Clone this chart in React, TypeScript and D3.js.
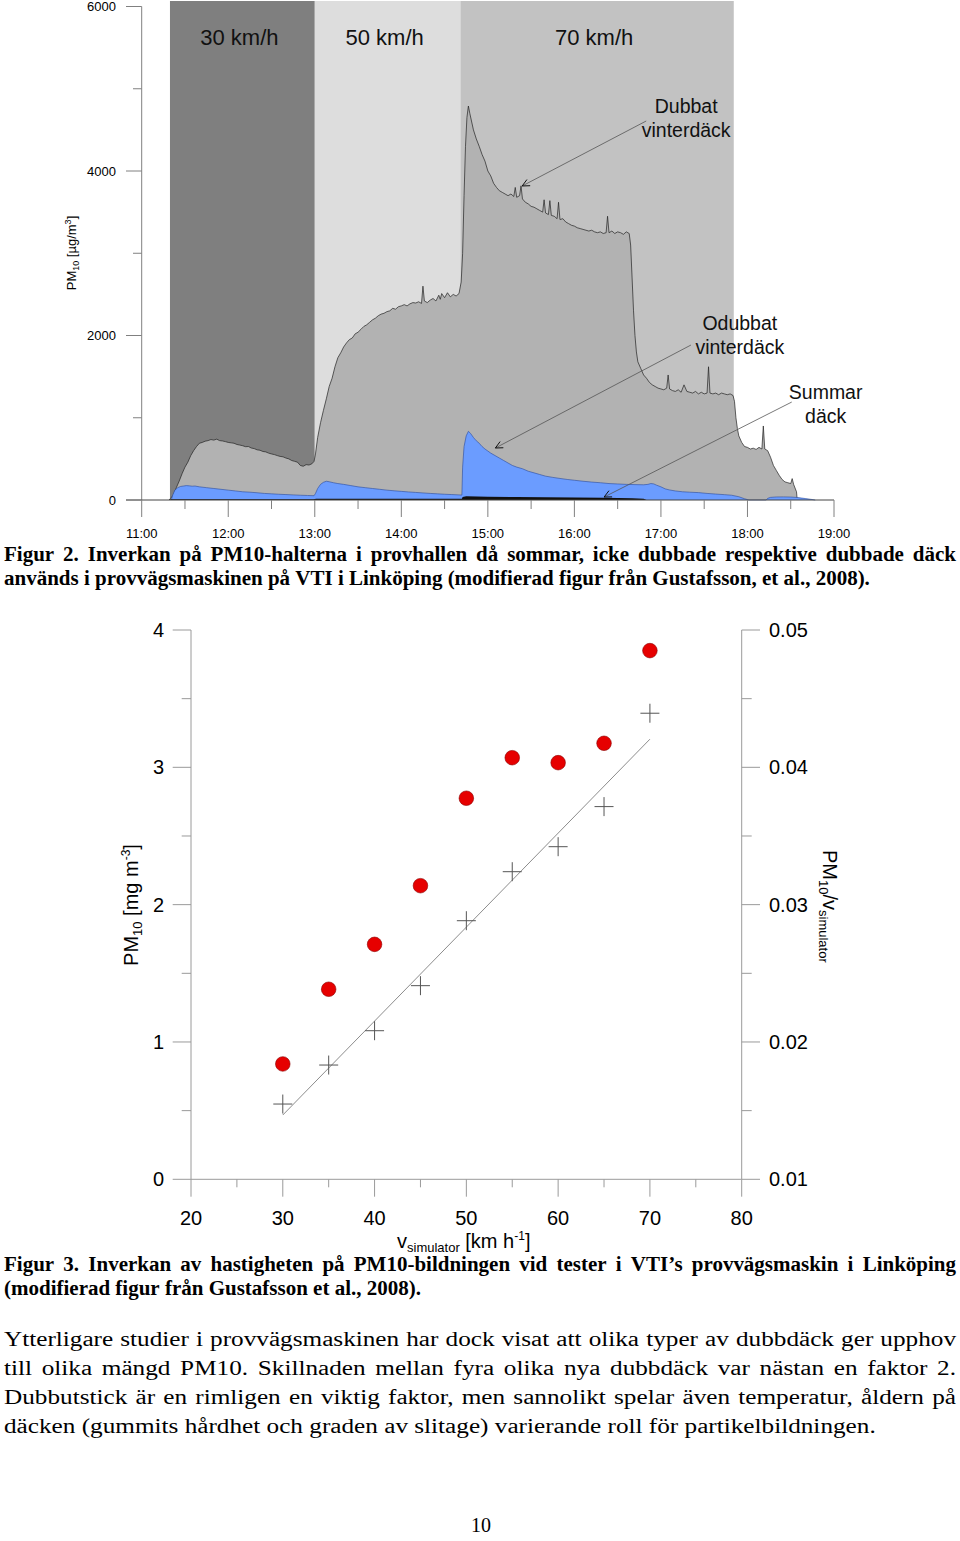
import React, { useLayoutEffect, useRef, useState } from "react";
import * as d3 from "d3";

// ---------- Figure 2 data (minutes after 11:00, PM10 µg/m3) ----------
const timeLabels = ["11:00", "12:00", "13:00", "14:00", "15:00", "16:00", "17:00", "18:00", "19:00"];
const pmTicks = [0, 2000, 4000, 6000];
const pmMinorTicks = [1000, 3000, 5000];
const bandLabels = ["30 km/h", "50 km/h", "70 km/h"];
const bandStart = [19.6, 120, 221];
const bandEnd = [120, 221, 410.5];

const studded: [number, number][] = [
  [19, 0], [20, 20], [22, 60], [24, 150], [26, 230], [28, 320], [30, 400], [32, 460], [34, 540], [36, 600], [38, 650],
  [40, 690], [42, 700], [44, 715], [46, 722], [48, 735], [50, 728], [52, 740], [54, 722], [56, 718], [58, 710],
  [60, 700], [62, 695], [64, 690], [66, 675], [68, 668], [70, 660], [72, 648], [74, 650], [76, 632], [78, 625],
  [80, 610], [82, 605], [84, 590], [86, 585], [88, 570], [90, 560], [92, 552], [94, 540], [96, 530], [98, 525],
  [100, 510], [102, 500], [104, 480], [106, 470], [108, 460], [110, 420], [112, 410], [114, 430], [116, 425],
  [118, 440], [119.5, 470],
  [120.5, 560], [122, 760], [124, 940], [126, 1090], [128, 1230], [130, 1380], [132, 1480], [134, 1620], [136, 1730],
  [138, 1790], [140, 1860], [142, 1910], [144, 1950], [146, 1970], [148, 2020], [150, 2040], [152, 2075], [154, 2110],
  [156, 2130], [158, 2160], [160, 2190], [162, 2210], [164, 2240], [166, 2260], [168, 2270], [170, 2290], [172, 2300],
  [174, 2330], [176, 2320], [178, 2350], [180, 2360], [182, 2375], [184, 2360], [186, 2385], [188, 2400], [190, 2395],
  [192, 2410], [194, 2390], [195, 2600], [196, 2420], [198, 2400], [200, 2430], [202, 2450], [204, 2420], [206, 2490],
  [207, 2440], [208, 2510], [210, 2460], [212, 2520], [214, 2470], [216, 2500], [218, 2480], [220, 2510], [221.5, 2650],
  [222.5, 3000], [223.5, 3700], [224.5, 4300], [225.5, 4650], [226.5, 4790], [227.5, 4700], [228.5, 4620], [230, 4500],
  [232, 4390], [234, 4300], [236, 4200], [238, 4120], [240, 4000], [242, 3940], [244, 3850], [246, 3800], [248, 3760],
  [250, 3740], [252, 3720], [254, 3700], [256, 3720], [258, 3690], [259, 3800], [260, 3680], [262, 3700], [263, 3820],
  [264, 3660], [266, 3620], [268, 3600], [270, 3570], [272, 3560], [274, 3540], [276, 3520], [278, 3500], [279, 3650],
  [280, 3490], [282, 3470], [283, 3640], [284, 3460], [286, 3450], [288, 3420], [289, 3620], [290, 3410], [292, 3420],
  [294, 3380], [296, 3360], [298, 3340], [300, 3330], [302, 3310], [304, 3300], [306, 3290], [308, 3280], [310, 3270],
  [312, 3280], [314, 3260], [316, 3250], [318, 3260], [320, 3240], [322, 3250], [323, 3450], [324, 3250], [326, 3270],
  [328, 3240], [330, 3260], [332, 3250], [334, 3230], [336, 3260], [338, 3240], [339, 3100], [340, 2700], [341, 2300],
  [342, 2000], [343, 1800], [344, 1680], [346, 1600], [348, 1520], [350, 1480], [352, 1430], [354, 1400], [356, 1380],
  [358, 1360], [360, 1350], [362, 1340], [364, 1360], [365, 1520], [366, 1350], [368, 1330], [370, 1320], [372, 1340],
  [374, 1310], [376, 1400], [378, 1320], [380, 1310], [382, 1300], [384, 1320], [386, 1290], [388, 1310], [390, 1290],
  [392, 1300], [393, 1620], [394, 1300], [396, 1290], [398, 1300], [400, 1280], [402, 1300], [404, 1290], [406, 1280],
  [408, 1290], [410, 1270], [411, 1200], [412, 1000], [413, 870], [414, 780], [416, 700], [418, 650], [420, 640],
  [422, 620], [424, 630], [426, 615], [428, 640], [430, 620], [431, 900], [432, 620], [434, 600], [436, 520], [438, 420],
  [440, 360], [442, 300], [444, 250], [446, 220], [448, 210], [450, 200], [451, 260], [452, 190], [454, 100], [454.5, 0],
];

const nonStudded: [number, number][] = [
  [20.5, 0], [21.5, 60], [23, 120], [25, 150], [27, 165], [29, 170], [31, 175], [33, 172], [35, 168], [37, 170], [40, 160],
  [45, 150], [50, 140], [55, 130], [60, 120], [65, 110], [70, 100], [75, 95], [80, 88], [85, 80], [90, 75], [95, 70],
  [100, 66], [105, 62], [110, 58], [115, 55], [119.5, 52], [120.5, 80], [122, 140], [124, 190], [126, 215], [128, 228],
  [130, 222], [133, 210], [136, 200], [140, 190], [145, 175], [150, 160], [155, 150], [160, 140], [165, 130], [170, 120],
  [175, 112], [180, 105], [185, 98], [190, 92], [195, 86], [200, 80], [205, 75], [210, 70], [215, 66], [220, 62],
  [222, 60], [222.5, 400], [223.5, 650], [225, 780], [226.5, 835], [228, 810], [230, 760], [232, 720], [234, 690],
  [236, 650], [238, 620], [240, 595], [242, 570], [245, 540], [248, 510], [251, 480], [254, 450], [257, 420], [260, 400],
  [264, 380], [268, 350], [272, 330], [276, 310], [280, 290], [285, 275], [290, 262], [295, 250], [300, 240], [306, 228],
  [312, 218], [318, 210], [324, 200], [330, 195], [336, 190], [342, 187], [348, 185], [351, 190], [353, 200], [355, 196],
  [357, 180], [360, 160], [363, 135], [366, 122], [370, 110], [375, 100], [380, 95], [386, 90], [392, 80], [398, 72],
  [404, 65], [409, 58], [414, 40], [418, 15], [420, 5], [421, 0], [433, 0], [434, 20], [436, 32], [440, 37], [445, 38],
  [450, 36], [455, 30], [460, 18], [464, 8], [467, 0],
];

const summer: [number, number][] = [
  [19, 0], [20, 8], [40, 10], [80, 8], [119, 8], [121, 15], [160, 14], [222, 14], [222.5, 35], [225, 45], [240, 40],
  [260, 35], [280, 32], [300, 30], [320, 27], [340, 22], [348, 15], [350, 0],
];

// annotations: [text lines], text anchor (min, value), arrow start (min, value), arrow tip (min, value)
const annLines = [["Dubbat", "vinterdäck"], ["Odubbat", "vinterdäck"], ["Summar", "däck"]];
const annText: [number, number][] = [[377.5, 4706], [414.7, 2067], [474.2, 1228]];
const annFrom: [number, number][] = [[349.8, 4608], [380.8, 1884], [450.7, 1191]];
const annTip: [number, number][] = [[263.8, 3818], [245.2, 632], [320.6, 36]];

// ---------- Figure 3 data ----------
const speeds = [30, 35, 40, 45, 50, 55, 60, 65, 70];
const pm10 = [0.84, 1.384, 1.711, 2.138, 2.775, 3.07, 3.034, 3.175, 3.85];
const pmPerV = [0.01548, 0.01832, 0.02082, 0.0241, 0.02883, 0.0324, 0.03422, 0.03714, 0.04394];
const fitLine: [number, number][] = [[30, 0.01468], [70, 0.04205]];
const xTicks3 = [20, 30, 40, 50, 60, 70, 80];
const xMinor3 = [25, 35, 45, 55, 65, 75];
const yLeftTicks = [0, 1, 2, 3, 4];
const yLeftMinor = [0.5, 1.5, 2.5, 3.5];
const yRightTicks = [0.01, 0.02, 0.03, 0.04, 0.05];
const yRightMinor = [0.015, 0.025, 0.035, 0.045];

// ---------- Text ----------
const cap2 = [
  "Figur 2. Inverkan på PM10-halterna i provhallen då sommar, icke dubbade respektive dubbade däck",
  "används i provvägsmaskinen på VTI i Linköping (modifierad figur från Gustafsson, et al., 2008).",
];
const cap3 = [
  "Figur 3. Inverkan av hastigheten på PM10-bildningen vid tester i VTI’s provvägsmaskin i Linköping",
  "(modifierad figur från Gustafsson et al., 2008).",
];
const body = [
  "Ytterligare studier i provvägsmaskinen har dock visat att olika typer av dubbdäck ger upphov",
  "till olika mängd PM10. Skillnaden mellan fyra olika nya dubbdäck var nästan en faktor 2.",
  "Dubbutstick är en rimligen en viktig faktor, men sannolikt spelar även temperatur, åldern på",
  "däcken (gummits hårdhet och graden av slitage) varierande roll för partikelbildningen.",
];

const SANS = "'Liberation Sans', Arial, Helvetica, sans-serif";
const SERIF = "'Liberation Serif', 'Times New Roman', Times, serif";

function JustLine({ text, x0, x1, y, size, weight, justify, sx }: any) {
  const words = text.split(" ");
  const refs = useRef<(SVGTextElement | null)[]>([]);
  const [xs, setXs] = useState<number[] | null>(null);
  useLayoutEffect(() => {
    const ws = refs.current.slice(0, words.length).map((r) => (r ? r.getComputedTextLength() * sx : 0));
    const total = ws.reduce((a, b) => a + b, 0);
    const gap = justify ? (x1 - x0 - total) / (words.length - 1) : size * 0.25 * sx;
    const out: number[] = [];
    let cx = x0;
    ws.forEach((w) => {
      out.push(cx);
      cx += w + gap;
    });
    setXs(out);
  }, [text]);
  return (
    <g fontFamily={SERIF} fontSize={size} fontWeight={weight} fill="#000">
      {words.map((w: string, i: number) => (
        <text key={i} ref={(el) => { refs.current[i] = el; }} transform={`translate(${xs ? xs[i] : x0},${y}) scale(${sx},1)`}>
          {w}
        </text>
      ))}
    </g>
  );
}

function Figure2() {
  const x = d3.scaleLinear().domain([0, 480]).range([141.7, 834]);
  const y = d3.scaleLinear().domain([0, 6000]).range([500, 6.5]);
  const area = d3.area<[number, number]>().x((d) => x(d[0])).y0(y(0)).y1((d) => y(d[1]));
  const line = d3.line<[number, number]>().x((d) => x(d[0])).y((d) => y(d[1]));
  const bandFill = ["#7f7f7f", "#dddddd", "#c2c2c2"];
  const hourMins = timeLabels.map((_, i) => i * 60);
  const halfMins = timeLabels.slice(1).map((_, i) => i * 60 + 30);

  return (
    <g>
      {bandLabels.map((l, i) => (
        <rect key={l} x={x(bandStart[i])} y={1} width={x(bandEnd[i]) - x(bandStart[i])} height={y(0) - 1} fill={bandFill[i]} />
      ))}
      {bandLabels.map((l, i) => (
        <text key={"t" + l} x={x((bandStart[i] + bandEnd[i]) / 2) - 3} y={y(5532)} fontFamily={SANS} fontSize={22} textAnchor="middle" fill="#111">
          {l}
        </text>
      ))}
      <path d={area(studded) || ""} fill="#b2b2b2" />
      <path d={line(studded) || ""} fill="none" stroke="#222" strokeWidth={0.7} />
      <path d={area(nonStudded) || ""} fill="#6b9cff" />
      <path d={line(nonStudded) || ""} fill="none" stroke="#2a4a9a" strokeWidth={0.6} />
      <path d={area(summer) || ""} fill="#111" />

      {/* axes */}
      <line x1={x(0)} x2={x(0)} y1={y(0)} y2={y(6000)} stroke="#808080" strokeWidth={1} />
      <line x1={126} x2={x(480)} y1={y(0)} y2={y(0)} stroke="#444" strokeWidth={1} />
      {pmTicks.map((t) => (
        <g key={t}>
          <line x1={126} x2={x(0)} y1={y(t)} y2={y(t)} stroke="#808080" />
          <text x={116} y={y(t) + 4.5} textAnchor="end" fontFamily={SANS} fontSize={13} fill="#000">{t}</text>
        </g>
      ))}
      {pmMinorTicks.map((t) => (
        <line key={t} x1={133} x2={x(0)} y1={y(t)} y2={y(t)} stroke="#808080" />
      ))}
      {hourMins.map((m, i) => (
        <g key={m}>
          <line x1={x(m)} x2={x(m)} y1={y(0)} y2={y(0) + 17} stroke="#808080" />
          <text x={x(m)} y={538} textAnchor="middle" fontFamily={SANS} fontSize={13} fill="#000">{timeLabels[i]}</text>
        </g>
      ))}
      {halfMins.map((m) => (
        <line key={m} x1={x(m)} x2={x(m)} y1={y(0)} y2={y(0) + 9} stroke="#808080" />
      ))}
      <text transform={`translate(75.5, 253) rotate(-90)`} textAnchor="middle" fontFamily={SANS} fontSize={13} fill="#000">
        PM<tspan fontSize={9} dy={3}>10</tspan><tspan dy={-3}> [µg/m</tspan><tspan fontSize={9} dy={-5}>3</tspan><tspan dy={5}>]</tspan>
      </text>

      {/* annotations */}
      {annLines.map((ls, i) => {
        const [fx, fy] = [x(annFrom[i][0]), y(annFrom[i][1])];
        const [tx, ty] = [x(annTip[i][0]), y(annTip[i][1])];
        const ang = Math.atan2(ty - fy, tx - fx);
        const L = 8, w = 0.45;
        return (
          <g key={i}>
            {ls.map((s, j) => (
              <text key={j} x={x(annText[i][0])} y={y(annText[i][1]) + j * 24} textAnchor="middle" fontFamily={SANS} fontSize={19.5} fill="#111">
                {s}
              </text>
            ))}
            <line x1={fx} y1={fy} x2={tx} y2={ty} stroke="#555" strokeWidth={0.8} />
            <path
              d={`M${tx - L * Math.cos(ang - w)},${ty - L * Math.sin(ang - w)} L${tx},${ty} L${tx - L * Math.cos(ang + w)},${ty - L * Math.sin(ang + w)}`}
              fill="none" stroke="#111" strokeWidth={1}
            />
          </g>
        );
      })}
    </g>
  );
}

function Figure3() {
  const x = d3.scaleLinear().domain([20, 80]).range([191, 741.7]);
  const yL = d3.scaleLinear().domain([0, 4]).range([1179.3, 630]);
  const yR = d3.scaleLinear().domain([0.01, 0.05]).range([1179.3, 630]);
  const ax = "#9a9a9a";
  const fit = d3.line<[number, number]>().x((d) => x(d[0])).y((d) => yR(d[1]));
  return (
    <g>
      <line x1={x(20)} x2={x(20)} y1={yL(0)} y2={yL(4)} stroke={ax} />
      <line x1={x(80)} x2={x(80)} y1={yL(0)} y2={yL(4)} stroke={ax} />
      <line x1={x(20)} x2={x(80)} y1={yL(0)} y2={yL(0)} stroke={ax} />
      {yLeftTicks.map((t) => (
        <g key={t}>
          <line x1={172.7} x2={x(20)} y1={yL(t)} y2={yL(t)} stroke={ax} />
          <text x={164} y={yL(t) + 7} textAnchor="end" fontFamily={SANS} fontSize={20} fill="#000">{t}</text>
        </g>
      ))}
      {yLeftMinor.map((t) => (
        <line key={t} x1={181.7} x2={x(20)} y1={yL(t)} y2={yL(t)} stroke={ax} />
      ))}
      {yRightTicks.map((t) => (
        <g key={t}>
          <line x1={x(80)} x2={760} y1={yR(t)} y2={yR(t)} stroke={ax} />
          <text x={769} y={yR(t) + 7} textAnchor="start" fontFamily={SANS} fontSize={20} fill="#000">{t.toFixed(2)}</text>
        </g>
      ))}
      {yRightMinor.map((t) => (
        <line key={t} x1={x(80)} x2={751.7} y1={yR(t)} y2={yR(t)} stroke={ax} />
      ))}
      {xTicks3.map((t) => (
        <g key={t}>
          <line x1={x(t)} x2={x(t)} y1={yL(0)} y2={yL(0) + 17.4} stroke={ax} />
          <text x={x(t)} y={1225} textAnchor="middle" fontFamily={SANS} fontSize={20} fill="#000">{t}</text>
        </g>
      ))}
      {xMinor3.map((t) => (
        <line key={t} x1={x(t)} x2={x(t)} y1={yL(0)} y2={yL(0) + 8} stroke={ax} />
      ))}

      <path d={fit(fitLine) || ""} fill="none" stroke="#8c8c8c" strokeWidth={1} />
      {speeds.map((s, i) => (
        <g key={"c" + s} stroke="#555" strokeWidth={1}>
          <line x1={x(s) - 9.5} x2={x(s) + 9.5} y1={yR(pmPerV[i])} y2={yR(pmPerV[i])} />
          <line x1={x(s)} x2={x(s)} y1={yR(pmPerV[i]) - 9.5} y2={yR(pmPerV[i]) + 9.5} />
        </g>
      ))}
      {speeds.map((s, i) => (
        <circle key={"p" + s} cx={x(s)} cy={yL(pm10[i])} r={7.3} fill="#e60000" stroke="#8a0000" strokeWidth={0.6} />
      ))}

      <text x={397} y={1248} fontFamily={SANS} fontSize={20} fill="#000">
        v<tspan fontSize={13} dy={4}>simulator</tspan><tspan fontSize={20} dy={-4}> [km h</tspan>
        <tspan fontSize={12} dy={-8}>-1</tspan><tspan fontSize={20} dy={8}>]</tspan>
      </text>
      <text transform={`translate(138, 905) rotate(-90)`} textAnchor="middle" fontFamily={SANS} fontSize={20} fill="#000">
        PM<tspan fontSize={13} dy={4}>10</tspan><tspan fontSize={20} dy={-4}> [mg m</tspan>
        <tspan fontSize={12} dy={-8}>-3</tspan><tspan fontSize={20} dy={8}>]</tspan>
      </text>
      <text transform={`translate(823, 850) rotate(90)`} textAnchor="start" fontFamily={SANS} fontSize={20} fill="#000">
        PM<tspan fontSize={13} dy={4}>10</tspan><tspan fontSize={20} dy={-4}>/v</tspan>
        <tspan fontSize={13} dy={4}>simulator</tspan>
      </text>
    </g>
  );
}

export default function App() {
  return (
    <svg width={960} height={1541} style={{ position: "absolute", left: 0, top: 0, display: "block", background: "#fff" }}>
      <rect x={0} y={0} width={960} height={1541} fill="#fff" />
      <Figure2 />
      <JustLine text={cap2[0]} x0={4} x1={956} y={560.5} size={20} weight="bold" justify sx={1.05} />
      <JustLine text={cap2[1]} x0={4} x1={956} y={584.5} size={20} weight="bold" justify={false} sx={1.05} />
      <Figure3 />
      <JustLine text={cap3[0]} x0={4} x1={956} y={1271} size={20} weight="bold" justify sx={1.05} />
      <JustLine text={cap3[1]} x0={4} x1={956} y={1294.5} size={20} weight="bold" justify={false} sx={1.05} />
      {body.map((l, i) => (
        <JustLine key={i} text={l} x0={4} x1={956} y={1346 + i * 29} size={21.6} weight="normal" justify={i < 3} sx={1.168} />
      ))}
      <text x={481} y={1532} textAnchor="middle" fontFamily={SERIF} fontSize={20} fill="#000">10</text>
    </svg>
  );
}
